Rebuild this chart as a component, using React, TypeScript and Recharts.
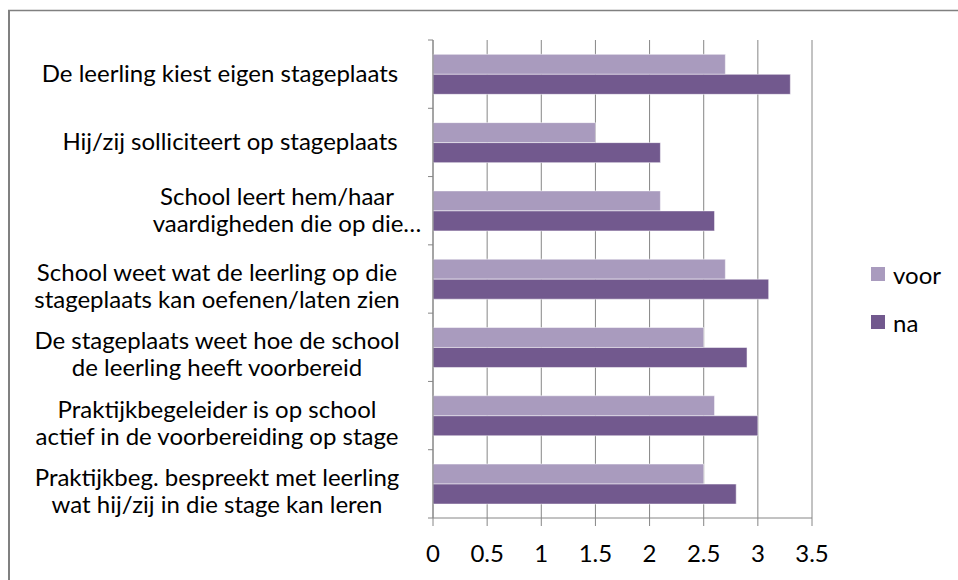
import React from "react";
import { BarChart, Bar, XAxis, YAxis, CartesianGrid } from "recharts";

const categories = [
  "De leerling kiest eigen stageplaats",
  "Hij/zij solliciteert op stageplaats",
  "School leert hem/haar\nvaardigheden die op die…",
  "School weet wat de leerling op die\nstageplaats kan oefenen/laten zien",
  "De stageplaats weet hoe de school\nde leerling heeft voorbereid",
  "Praktijkbegeleider is op school\nactief in de voorbereiding op stage",
  "Praktijkbeg. bespreekt met leerling\nwat hij/zij in die stage kan leren",
];
const voorValues = [2.7, 1.5, 2.1, 2.7, 2.5, 2.6, 2.5];
const naValues = [3.3, 2.1, 2.6, 3.1, 2.9, 3.0, 2.8];
const valueTicks = [0, 0.5, 1, 1.5, 2, 2.5, 3, 3.5];
const seriesNames = ["voor", "na"];

const data = categories.map((name, i) => ({
  name,
  voor: voorValues[i],
  na: naValues[i],
}));

const W = 958;
const H = 580;
const TOP = 40;
const X_AXIS_H = 62;
const AXIS_X = 433;
const BAND = (H - TOP - X_AXIS_H) / categories.length;

const FONT = "Lato, 'Open Sans', sans-serif";
const GRID = "#868686";
const VOOR = "#a99bbe";
const NA = "#72598e";
const COLORS = [VOOR, NA];

// Excel-ish label placement: lines centred, a few labels sit further right
function labelCenters(index: number, lines: string[]): number[] {
  if (index === 2) return [277, 287];
  if (index === 1) return [230];
  if (index === 0) return [220];
  return lines.map(() => 217);
}

function CategoryTick(props: any) {
  const { y, payload, index } = props;
  const lines = String(payload.value).split("\n");
  const centers = labelCenters(index, lines);
  const offsets =
    lines.length === 1 ? [8] : index === 2 ? [-6, 21] : [2, 29];
  const top = y - BAND / 2;
  const isLast = index === categories.length - 1;
  return (
    <g>
      {/* Excel puts category ticks between the bands */}
      <line x1={AXIS_X - 5} x2={AXIS_X} y1={top} y2={top} stroke={GRID} />
      {isLast && (
        <line
          x1={AXIS_X - 5}
          x2={AXIS_X}
          y1={top + BAND}
          y2={top + BAND}
          stroke={GRID}
        />
      )}
      {lines.map((line, i) => (
        <text
          key={i}
          x={centers[i]}
          y={y + offsets[i]}
          textAnchor="middle"
          fontFamily={FONT}
          fontSize={24}
          fill="#000"
        >
          {line}
        </text>
      ))}
    </g>
  );
}

function ValueTick(props: any) {
  const { x, payload } = props;
  return (
    <text
      x={x}
      y={562}
      textAnchor="middle"
      fontFamily={FONT}
      fontSize={24}
      fill="#000"
    >
      {payload.value}
    </text>
  );
}

function LegendBox() {
  return (
    <div
      style={{
        position: "absolute",
        left: 871,
        top: 250,
        fontFamily: FONT,
        fontSize: 24,
        color: "#000",
      }}
    >
      {seriesNames.map((label, i) => (
        <div
          key={label}
          style={{ display: "flex", alignItems: "center", height: 48 }}
        >
          <span
            style={{
              width: 14,
              height: 14,
              background: COLORS[i],
              marginRight: 8,
              display: "inline-block",
            }}
          />
          <span>{label}</span>
        </div>
      ))}
    </div>
  );
}

export default function App() {
  return (
    <div
      style={{
        position: "absolute",
        left: 0,
        top: 0,
        width: W,
        height: H,
        overflow: "hidden",
        background: "#fff",
      }}
    >
      <BarChart
        layout="vertical"
        width={W}
        height={H}
        data={data}
        margin={{ top: TOP, right: 146, left: 0, bottom: 0 }}
        barCategoryGap="21%"
        barGap={0}
      >
        <CartesianGrid horizontal={false} stroke={GRID} />
        <XAxis
          type="number"
          domain={[0, 3.5]}
          ticks={valueTicks}
          height={X_AXIS_H}
          axisLine={{ stroke: GRID }}
          tickLine={{ stroke: GRID }}
          tickSize={8}
          tick={<ValueTick />}
          interval={0}
        />
        <YAxis
          type="category"
          dataKey="name"
          width={AXIS_X}
          axisLine={{ stroke: GRID }}
          tickLine={false}
          tick={<CategoryTick />}
          interval={0}
        />
        <Bar
          dataKey="voor"
          fill={VOOR}
          stroke="#ffffff"
          strokeOpacity={0.5}
          isAnimationActive={false}
        />
        <Bar
          dataKey="na"
          fill={NA}
          stroke="#ffffff"
          strokeOpacity={0.5}
          isAnimationActive={false}
        />
      </BarChart>
      <LegendBox />
      <svg
        width={W}
        height={H}
        style={{ position: "absolute", left: 0, top: 0, pointerEvents: "none" }}
      >
        <line x1={8} y1={10.5} x2={W} y2={10.5} stroke="#808080" strokeWidth={1.5} />
        <line x1={9} y1={10} x2={9} y2={H} stroke="#808080" strokeWidth={2} />
      </svg>
    </div>
  );
}
